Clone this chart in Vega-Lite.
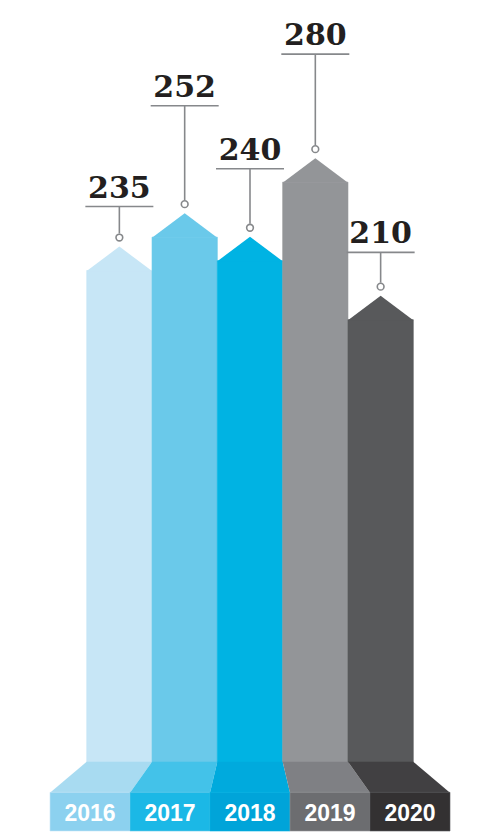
{
  "$schema": "https://vega.github.io/schema/vega-lite/v6.json",
  "width": 482,
  "height": 832,
  "autosize": {"type": "fit", "contains": "padding"},
  "padding": 0,
  "background": "white",
  "config": {"view": {"stroke": null}},
  "data": {
    "values": [
      {"year": 2016, "value": 235},
      {"year": 2017, "value": 252},
      {"year": 2018, "value": 240},
      {"year": 2019, "value": 280},
      {"year": 2020, "value": 210}
    ]
  },
  "resolve": {"scale": {"x": "independent", "color": "independent"}},
  "layer": [
    {
      "encoding": {
        "x": {"field": "year", "type": "ordinal", "axis": null,
              "scale": {"type": "band", "range": [86.7, 413.3], "paddingInner": 0, "paddingOuter": 0}},
        "y": {"field": "value", "type": "quantitative", "axis": null,
              "scale": {"domain": [-62.5, 360.5], "nice": false, "zero": false}}
      },
      "resolve": {"scale": {"color": "independent"}},
      "layer": [
        {
          "mark": {"type": "bar", "yOffset": 24, "strokeWidth": 0.6},
          "encoding": {
            "y2": {"datum": -27.5},
            "color": {"field": "year", "type": "nominal", "legend": null,
                      "scale": {"range": ["#c7e6f6", "#6ac9ea", "#00b3e3", "#939598", "#58595b"]}},
            "stroke": {"field": "year", "type": "nominal", "legend": null,
                      "scale": {"range": ["#c7e6f6", "#6ac9ea", "#00b3e3", "#939598", "#58595b"]}}
          }
        },
        {
          "mark": {"type": "point", "shape": "M-32.66,24.5L0,0L32.66,24.5Z", "size": 4, "filled": true, "opacity": 1, "strokeWidth": 0},
          "encoding": {
            "color": {"field": "year", "type": "nominal", "legend": null,
                      "scale": {"range": ["#c7e6f6", "#6ac9ea", "#00b3e3", "#939598", "#58595b"]}}
          }
        },
        {
          "mark": {"type": "point", "size": 4, "filled": true, "opacity": 1, "strokeWidth": 0},
          "encoding": {
            "y": {"datum": -27.5},
            "shape": {"field": "year", "type": "nominal", "legend": null,
                      "scale": {"range": [
                        "M-32.66,-0.5L32.66,-0.5L10.64,30.5L-69.36,30.5Z",
                        "M-32.66,-0.5L32.66,-0.5L25.32,30.5L-54.68,30.5Z",
                        "M-32.66,-0.5L32.66,-0.5L40,30.5L-40,30.5Z",
                        "M-32.66,-0.5L32.66,-0.5L54.66,30.5L-25.34,30.5Z",
                        "M-32.66,-0.5L32.66,-0.5L69.34,30.5L-10.66,30.5Z"
                      ]}},
            "color": {"field": "year", "type": "nominal", "legend": null,
                      "scale": {"range": ["#a8dbf1", "#43c2e9", "#00aadd", "#7f8084", "#414042"]}}
          }
        },
        {
          "transform": [{"filter": "datum.year == 2016"}],
          "layer": [
            {"mark": {"type": "rule", "color": "#86888b", "strokeWidth": 1.6, "yOffset": -13, "y2Offset": -40}, "encoding": {"y2": {"field": "value"}}},
            {"mark": {"type": "tick", "orient": "horizontal", "size": 68, "thickness": 1.6, "color": "#86888b", "opacity": 1, "yOffset": -40}},
            {"mark": {"type": "text", "font": "DejaVu Serif", "fontWeight": "bold", "fontSize": 30, "color": "#231f20", "baseline": "alphabetic", "yOffset": -49}, "encoding": {"text": {"field": "value", "type": "nominal"}}}
          ]
        },
        {
          "transform": [{"filter": "datum.year == 2017"}],
          "layer": [
            {"mark": {"type": "rule", "color": "#86888b", "strokeWidth": 1.6, "yOffset": -13, "y2Offset": -107.4}, "encoding": {"y2": {"field": "value"}}},
            {"mark": {"type": "tick", "orient": "horizontal", "size": 68, "thickness": 1.6, "color": "#86888b", "opacity": 1, "yOffset": -107.4}},
            {"mark": {"type": "text", "font": "DejaVu Serif", "fontWeight": "bold", "fontSize": 30, "color": "#231f20", "baseline": "alphabetic", "yOffset": -116.4}, "encoding": {"text": {"field": "value", "type": "nominal"}}}
          ]
        },
        {
          "transform": [{"filter": "datum.year == 2018"}],
          "layer": [
            {"mark": {"type": "rule", "color": "#86888b", "strokeWidth": 1.6, "yOffset": -13, "y2Offset": -68}, "encoding": {"y2": {"field": "value"}}},
            {"mark": {"type": "tick", "orient": "horizontal", "size": 68, "thickness": 1.6, "color": "#86888b", "opacity": 1, "yOffset": -68}},
            {"mark": {"type": "text", "font": "DejaVu Serif", "fontWeight": "bold", "fontSize": 30, "color": "#231f20", "baseline": "alphabetic", "yOffset": -77}, "encoding": {"text": {"field": "value", "type": "nominal"}}}
          ]
        },
        {
          "transform": [{"filter": "datum.year == 2019"}],
          "layer": [
            {"mark": {"type": "rule", "color": "#86888b", "strokeWidth": 1.6, "yOffset": -13, "y2Offset": -104}, "encoding": {"y2": {"field": "value"}}},
            {"mark": {"type": "tick", "orient": "horizontal", "size": 68, "thickness": 1.6, "color": "#86888b", "opacity": 1, "yOffset": -104}},
            {"mark": {"type": "text", "font": "DejaVu Serif", "fontWeight": "bold", "fontSize": 30, "color": "#231f20", "baseline": "alphabetic", "yOffset": -113}, "encoding": {"text": {"field": "value", "type": "nominal"}}}
          ]
        },
        {
          "transform": [{"filter": "datum.year == 2020"}],
          "layer": [
            {"mark": {"type": "rule", "color": "#86888b", "strokeWidth": 1.6, "yOffset": -13, "y2Offset": -43.3}, "encoding": {"y2": {"field": "value"}}},
            {"mark": {"type": "tick", "orient": "horizontal", "size": 68, "thickness": 1.6, "color": "#86888b", "opacity": 1, "yOffset": -43.3}},
            {"mark": {"type": "text", "font": "DejaVu Serif", "fontWeight": "bold", "fontSize": 30, "color": "#231f20", "baseline": "alphabetic", "yOffset": -52.3}, "encoding": {"text": {"field": "value", "type": "nominal"}}}
          ]
        },
        {
          "mark": {"type": "point", "shape": "circle", "size": 45, "filled": true, "fill": "white", "stroke": "#86888b", "strokeWidth": 1.6, "opacity": 1, "yOffset": -9}
        }
      ]
    },
    {
      "encoding": {
        "x": {"field": "year", "type": "ordinal", "axis": null,
              "scale": {"type": "band", "range": [50, 450], "paddingInner": 0, "paddingOuter": 0}}
      },
      "layer": [
        {
          "mark": {"type": "bar", "strokeWidth": 0.6},
          "encoding": {
            "y": {"datum": -42.8, "type": "quantitative"},
            "y2": {"datum": -62.5},
            "color": {"field": "year", "type": "nominal", "legend": null,
                      "scale": {"range": ["#8cd1ef", "#1bb8e6", "#00a4d9", "#6c6d70", "#333132"]}},
            "stroke": {"field": "year", "type": "nominal", "legend": null,
                      "scale": {"range": ["#8cd1ef", "#1bb8e6", "#00a4d9", "#6c6d70", "#333132"]}}
          }
        },
        {
          "mark": {"type": "text", "font": "Liberation Sans", "fontWeight": "bold", "fontSize": 23, "color": "white", "baseline": "alphabetic"},
          "encoding": {
            "y": {"datum": -57.3, "type": "quantitative"},
            "text": {"field": "year", "type": "nominal"}
          }
        }
      ]
    }
  ]
}
